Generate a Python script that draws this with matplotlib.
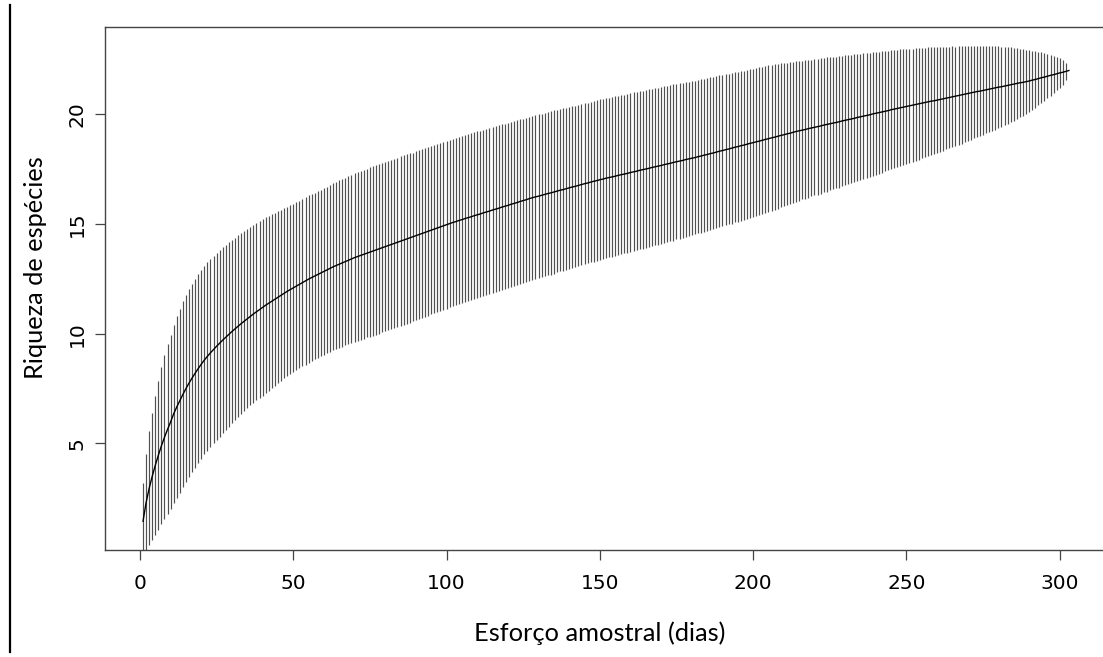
import numpy as np
import matplotlib
matplotlib.use('Agg')
import matplotlib.pyplot as plt
from matplotlib.lines import Line2D

# Curva de acumulacao de especies (riqueza media e desvio padrao por dia)
dias = np.arange(1, 304)

riqueza = [
    1.45, 2.30, 2.95, 3.50, 4.00, 4.46, 4.89, 5.28, 5.64, 5.98,
    6.35, 6.66, 6.95, 7.23, 7.50, 7.75, 7.98, 8.20, 8.41, 8.61,
    8.80, 8.97, 9.13, 9.28, 9.43, 9.57, 9.71, 9.84, 9.97, 10.10,
    10.22, 10.34, 10.46, 10.57, 10.68, 10.79, 10.90, 11.00, 11.10, 11.20,
    11.30, 11.39, 11.48, 11.57, 11.66, 11.75, 11.84, 11.93, 12.01, 12.09,
    12.17, 12.25, 12.33, 12.41, 12.49, 12.56, 12.63, 12.70, 12.77, 12.84,
    12.91, 12.98, 13.05, 13.11, 13.17, 13.23, 13.29, 13.35, 13.41, 13.47,
    13.52, 13.57, 13.62, 13.67, 13.72, 13.77, 13.82, 13.87, 13.92, 13.97,
    14.02, 14.07, 14.12, 14.17, 14.22, 14.27, 14.32, 14.37, 14.42, 14.47,
    14.52, 14.57, 14.62, 14.67, 14.72, 14.77, 14.82, 14.87, 14.92, 14.97,
    15.02, 15.07, 15.11, 15.16, 15.20, 15.25, 15.29, 15.33, 15.38, 15.42,
    15.46, 15.51, 15.55, 15.59, 15.64, 15.68, 15.72, 15.77, 15.81, 15.85,
    15.90, 15.94, 15.98, 16.03, 16.07, 16.11, 16.16, 16.20, 16.24, 16.27,
    16.31, 16.35, 16.39, 16.42, 16.46, 16.50, 16.54, 16.57, 16.61, 16.65,
    16.69, 16.72, 16.76, 16.80, 16.84, 16.87, 16.91, 16.95, 16.98, 17.02,
    17.05, 17.09, 17.12, 17.15, 17.18, 17.22, 17.25, 17.28, 17.31, 17.35,
    17.38, 17.41, 17.45, 17.48, 17.51, 17.54, 17.58, 17.61, 17.64, 17.67,
    17.71, 17.74, 17.77, 17.81, 17.84, 17.87, 17.90, 17.94, 17.97, 18.00,
    18.03, 18.07, 18.10, 18.14, 18.17, 18.21, 18.24, 18.28, 18.32, 18.35,
    18.39, 18.42, 18.46, 18.50, 18.53, 18.57, 18.60, 18.64, 18.68, 18.71,
    18.75, 18.78, 18.82, 18.86, 18.89, 18.93, 18.96, 19.00, 19.04, 19.07,
    19.11, 19.14, 19.18, 19.22, 19.25, 19.28, 19.31, 19.35, 19.38, 19.41,
    19.44, 19.47, 19.51, 19.54, 19.57, 19.60, 19.63, 19.66, 19.70, 19.73,
    19.76, 19.79, 19.82, 19.86, 19.89, 19.92, 19.95, 19.98, 20.02, 20.05,
    20.08, 20.11, 20.14, 20.17, 20.21, 20.24, 20.27, 20.30, 20.33, 20.36,
    20.39, 20.42, 20.45, 20.48, 20.51, 20.54, 20.57, 20.60, 20.62, 20.65,
    20.68, 20.71, 20.74, 20.77, 20.80, 20.83, 20.86, 20.89, 20.92, 20.95,
    20.98, 21.01, 21.04, 21.06, 21.09, 21.12, 21.15, 21.18, 21.21, 21.24,
    21.26, 21.29, 21.32, 21.35, 21.38, 21.41, 21.44, 21.46, 21.49, 21.52,
    21.56, 21.59, 21.63, 21.67, 21.70, 21.74, 21.78, 21.81, 21.85, 21.89,
    21.92, 21.96, 22.00,
]

desvio = [
    0.88, 1.10, 1.30, 1.45, 1.58, 1.70, 1.79, 1.87, 1.94, 1.99,
    2.03, 2.07, 2.10, 2.12, 2.13, 2.14, 2.15, 2.15, 2.15, 2.15,
    2.15, 2.15, 2.14, 2.14, 2.13, 2.13, 2.12, 2.11, 2.10, 2.09,
    2.08, 2.07, 2.06, 2.05, 2.04, 2.03, 2.03, 2.02, 2.01, 2.01,
    2.00, 1.99, 1.98, 1.97, 1.96, 1.95, 1.94, 1.93, 1.92, 1.92,
    1.92, 1.91, 1.91, 1.91, 1.91, 1.90, 1.90, 1.90, 1.90, 1.90,
    1.90, 1.90, 1.90, 1.90, 1.91, 1.91, 1.91, 1.91, 1.92, 1.92,
    1.92, 1.92, 1.92, 1.92, 1.93, 1.93, 1.93, 1.93, 1.93, 1.93,
    1.93, 1.93, 1.93, 1.93, 1.93, 1.93, 1.93, 1.93, 1.92, 1.92,
    1.92, 1.92, 1.92, 1.92, 1.92, 1.92, 1.92, 1.91, 1.91, 1.91,
    1.91, 1.91, 1.91, 1.91, 1.90, 1.90, 1.90, 1.90, 1.90, 1.90,
    1.90, 1.90, 1.89, 1.89, 1.89, 1.89, 1.89, 1.89, 1.88, 1.88,
    1.88, 1.88, 1.88, 1.88, 1.87, 1.87, 1.87, 1.87, 1.87, 1.87,
    1.86, 1.86, 1.86, 1.86, 1.86, 1.85, 1.85, 1.85, 1.85, 1.85,
    1.84, 1.84, 1.84, 1.84, 1.84, 1.83, 1.83, 1.83, 1.83, 1.83,
    1.83, 1.82, 1.82, 1.82, 1.82, 1.82, 1.81, 1.81, 1.81, 1.81,
    1.81, 1.80, 1.80, 1.80, 1.80, 1.80, 1.79, 1.79, 1.79, 1.79,
    1.79, 1.78, 1.78, 1.78, 1.77, 1.77, 1.77, 1.76, 1.76, 1.76,
    1.75, 1.75, 1.75, 1.74, 1.74, 1.74, 1.73, 1.73, 1.73, 1.73,
    1.72, 1.72, 1.72, 1.71, 1.71, 1.71, 1.70, 1.70, 1.70, 1.69,
    1.69, 1.68, 1.68, 1.67, 1.67, 1.66, 1.66, 1.65, 1.64, 1.63,
    1.62, 1.62, 1.61, 1.60, 1.59, 1.58, 1.58, 1.57, 1.56, 1.55,
    1.55, 1.54, 1.53, 1.53, 1.52, 1.51, 1.50, 1.50, 1.49, 1.48,
    1.47, 1.46, 1.46, 1.45, 1.44, 1.43, 1.42, 1.42, 1.41, 1.40,
    1.39, 1.38, 1.37, 1.36, 1.36, 1.35, 1.34, 1.33, 1.32, 1.31,
    1.30, 1.29, 1.28, 1.27, 1.26, 1.25, 1.24, 1.23, 1.22, 1.21,
    1.20, 1.18, 1.17, 1.16, 1.15, 1.13, 1.12, 1.11, 1.09, 1.08,
    1.07, 1.05, 1.04, 1.02, 1.01, 0.99, 0.98, 0.96, 0.95, 0.93,
    0.91, 0.89, 0.87, 0.85, 0.83, 0.81, 0.78, 0.76, 0.73, 0.70,
    0.67, 0.64, 0.61, 0.58, 0.54, 0.50, 0.46, 0.42, 0.38, 0.34,
    0.28, 0.19, 0.00,
]

xticks = [0, 50, 100, 150, 200, 250, 300]
yticks = [5, 10, 15, 20]

riqueza = np.array(riqueza)
desvio = np.array(desvio)
inferior = riqueza - 2 * desvio
superior = riqueza + 2 * desvio

fig = plt.figure(figsize=(11.03, 6.57), dpi=100)
ax = fig.add_axes([104.7 / 1103, 1 - 550 / 657, (1106 - 104.7) / 1103, (550 - 27.3) / 657])

ax.vlines(dias, inferior, superior, colors='#505050', linewidth=0.85)
ax.plot(dias, riqueza, color='black', linewidth=1.0)

ax.set_xlim(-11.5, 315.1)
ax.set_ylim(0.14, 23.97)

ax.set_xticks(xticks)
ax.set_yticks(yticks)
ax.tick_params(axis='both', direction='out', length=7, width=0.9, color='#444444',
               labelsize=14.5)
ax.tick_params(axis='x', pad=10)
ax.tick_params(axis='y', pad=6, labelrotation=90)
for lab in ax.get_yticklabels():
    lab.set_va('center')

for s in ax.spines.values():
    s.set_color('#444444')
    s.set_linewidth(1.0)

# rotulos dos eixos (fonte tipo Calibri)
fig.text(600 / 1103, 1 - 633 / 657, 'Esforço amostral (dias)', ha='center', va='center',
         fontsize=18.3, family='Lato')
fig.text(36 / 1103, 1 - 268 / 657, 'Riqueza de espécies', ha='center', va='center',
         rotation=90, fontsize=18.3, family='Lato')

# linha vertical na margem esquerda
fig.add_artist(Line2D([9.5 / 1103, 9.5 / 1103], [1 - 5 / 657, 1 - 652 / 657],
                      color='black', linewidth=1.6))

fig.savefig('out.png', dpi=100)
